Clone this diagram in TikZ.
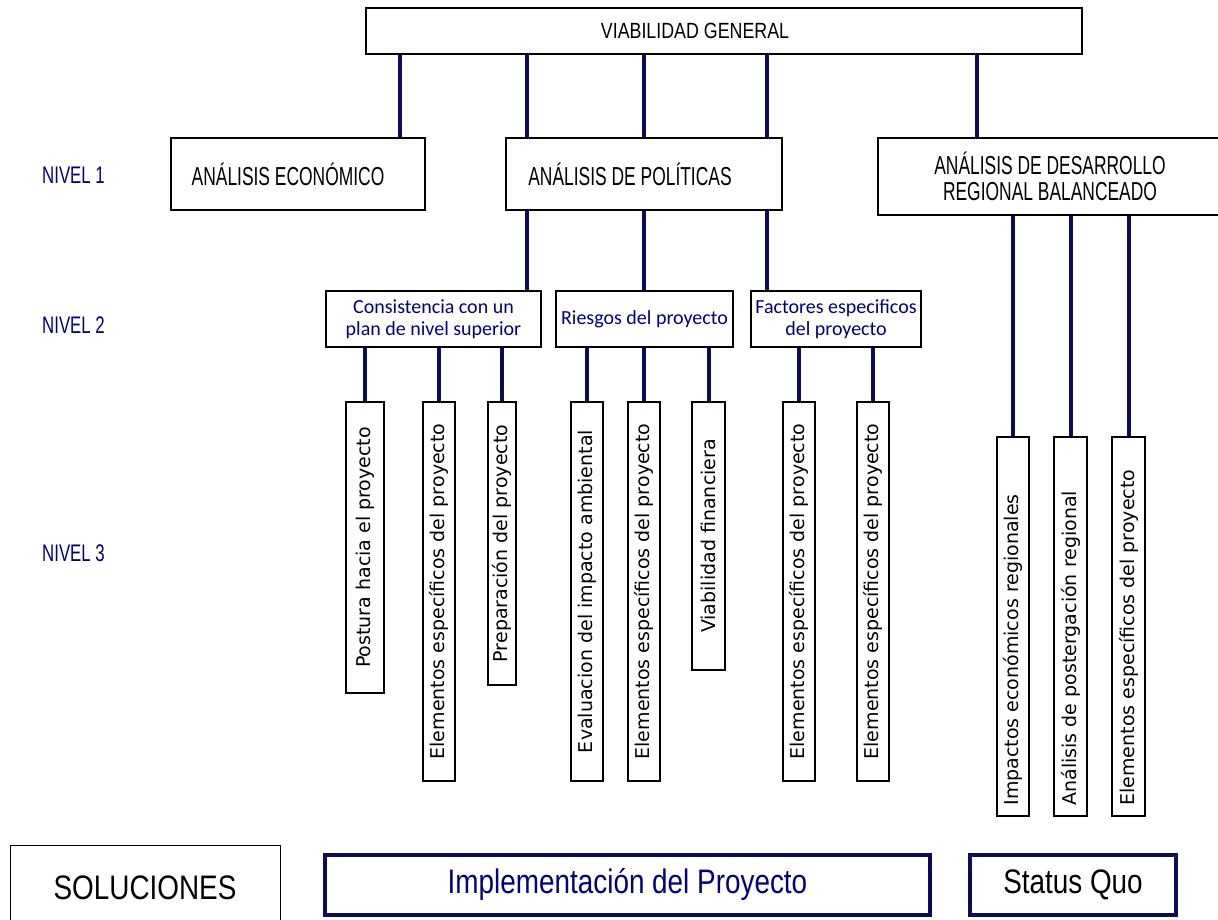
\documentclass[tikz,border=0pt]{standalone}
\usepackage{fontspec}
\setmainfont{Liberation Sans}
\newfontfamily\condA[FakeStretch=0.81]{Liberation Sans}
\newfontfamily\condB[FakeStretch=0.67]{Liberation Sans}
\newfontfamily\condC[FakeStretch=0.70]{Liberation Sans}
\newfontfamily\condD[FakeStretch=0.82]{Liberation Sans}
\newfontfamily\roundf{DejaVu Sans}
\newfontfamily\lvtwo{Carlito}
\definecolor{navy}{RGB}{12,12,92}
\definecolor{navytext}{RGB}{0,0,128}
\begin{document}
\begin{tikzpicture}[x=1pt,y=-1pt,
  box/.style={draw=black, line width=1.3pt, fill=white, inner sep=0pt, align=center},
  topbox/.style={box, font=\condB\fontsize{26}{26}\selectfont},
  midbox/.style={box, text=navytext, font=\lvtwo\fontsize{20}{22}\selectfont},
  vbox/.style={box, font=\roundf\fontsize{19}{19}\selectfont},
  navybox/.style={draw=navy, line width=4pt, fill=white, inner sep=0pt, font=\condD\fontsize{34}{36}\selectfont},
  link/.style={draw=navy, line width=4pt},
  lvl/.style={anchor=west, inner sep=0pt, text=navytext, font=\condC\fontsize{24}{26}\selectfont}]
\useasboundingbox (0,0) rectangle (1218,920);
\fill[white] (0,0) rectangle (1218,920);

% top
\node[box, font=\condA\fontsize{22}{24}\selectfont, minimum width=716pt, minimum height=46pt] (top) at (724,31) {\hspace*{-58pt}VIABILIDAD GENERAL};

% level 1
\node[topbox, minimum width=254pt, minimum height=72pt] (econ) at (298,174) {\hspace*{-20pt}ANÁLISIS ECONÓMICO};
\node[topbox, minimum width=276pt, minimum height=72pt] (pol) at (644,174) {\hspace*{-28pt}ANÁLISIS DE POLÍTICAS};
\node[topbox, minimum width=344pt, minimum height=77pt] (des) at (1050,176.5) {ANÁLISIS DE DESARROLLO\\REGIONAL BALANCEADO};

% level 2
\node[midbox, minimum width=215pt, minimum height=56pt] (cons) at (433.5,319) {Consistencia con un\\plan de nivel superior};
\node[midbox, minimum width=177pt, minimum height=56pt] (ries) at (644.5,319) {Riesgos del proyecto};
\node[midbox, minimum width=170pt, minimum height=56pt] (fact) at (836,319) {Factores especificos\\del proyecto};

% level 3
\node[vbox, minimum width=38pt, minimum height=291pt] (pos) at (365,547.5) {\rotatebox{90}{Postura hacia el proyecto}};
\node[vbox, minimum width=32pt, minimum height=379pt] (el1) at (439,591.5) {\rotatebox{90}{Elementos específicos del proyecto}};
\node[vbox, minimum width=28pt, minimum height=283pt] (pre) at (502,543.5) {\rotatebox{90}{Preparación del proyecto}};
\node[vbox, minimum width=32pt, minimum height=379pt] (eva) at (587,591.5) {\rotatebox{90}{Evaluacion del impacto ambiental}};
\node[vbox, minimum width=32pt, minimum height=379pt] (el2) at (644,591.5) {\rotatebox{90}{Elementos específicos del proyecto}};
\node[vbox, minimum width=33pt, minimum height=268pt] (via) at (708.5,536) {\rotatebox{90}{Viabilidad financiera}};
\node[vbox, minimum width=32pt, minimum height=379pt] (el3) at (799,591.5) {\rotatebox{90}{Elementos específicos del proyecto}};
\node[vbox, minimum width=32pt, minimum height=379pt] (el4) at (873,591.5) {\rotatebox{90}{Elementos específicos del proyecto}};
\node[vbox, minimum width=32pt, minimum height=379pt] (imp) at (1013,626.5) {\rotatebox{90}{\makebox[358pt][l]{Impactos económicos regionales}}};
\node[vbox, minimum width=33pt, minimum height=379pt] (ana) at (1070.5,626.5) {\rotatebox{90}{\makebox[358pt][l]{Análisis de postergación regional}}};
\node[vbox, minimum width=33pt, minimum height=379pt] (el5) at (1128.5,626.5) {\rotatebox{90}{\makebox[358pt][l]{Elementos específicos del proyecto}}};

% level labels
\node[lvl] (n1) at (42,175) {NIVEL 1};
\node[lvl] (n2) at (42,325) {NIVEL 2};
\node[lvl] (n3) at (42,553) {NIVEL 3};

% bottom
\node[box, line width=1pt, font=\condD\fontsize{34}{36}\selectfont, minimum width=270pt, minimum height=86pt] (sol) at (145,888) {SOLUCIONES};
\node[navybox, text=navytext, minimum width=605pt, minimum height=60pt] (impl) at (627.5,885) {Implementación del Proyecto};
\node[navybox, minimum width=206pt, minimum height=60pt] (sq) at (1073,885) {Status Quo};

% connectors
\coordinate (t1) at (400,0);
\coordinate (t2) at (527,0);
\coordinate (t3) at (644,0);
\coordinate (t4) at (767,0);
\coordinate (t5) at (977,0);
\draw[link] (top.south -| t1) -- (econ.north -| t1);
\draw[link] (top.south -| t2) -- (pol.north -| t2);
\draw[link] (top.south -| t3) -- (pol.north -| t3);
\draw[link] (top.south -| t4) -- (pol.north -| t4);
\draw[link] (top.south -| t5) -- (des.north -| t5);

\draw[link] (pol.south -| t2) -- (cons.north -| t2);
\draw[link] (pol.south -| t3) -- (ries.north -| t3);
\draw[link] (pol.south -| t4) -- (fact.north -| t4);

\draw[link] (pos.north) -- (pos.north |- cons.south);
\draw[link] (el1.north) -- (el1.north |- cons.south);
\draw[link] (pre.north) -- (pre.north |- cons.south);
\draw[link] (eva.north) -- (eva.north |- ries.south);
\draw[link] (el2.north) -- (el2.north |- ries.south);
\draw[link] (via.north) -- (via.north |- ries.south);
\draw[link] (el3.north) -- (el3.north |- fact.south);
\draw[link] (el4.north) -- (el4.north |- fact.south);
\draw[link] (imp.north) -- (imp.north |- des.south);
\draw[link] (ana.north) -- (ana.north |- des.south);
\draw[link] (el5.north) -- (el5.north |- des.south);
\end{tikzpicture}
\end{document}
